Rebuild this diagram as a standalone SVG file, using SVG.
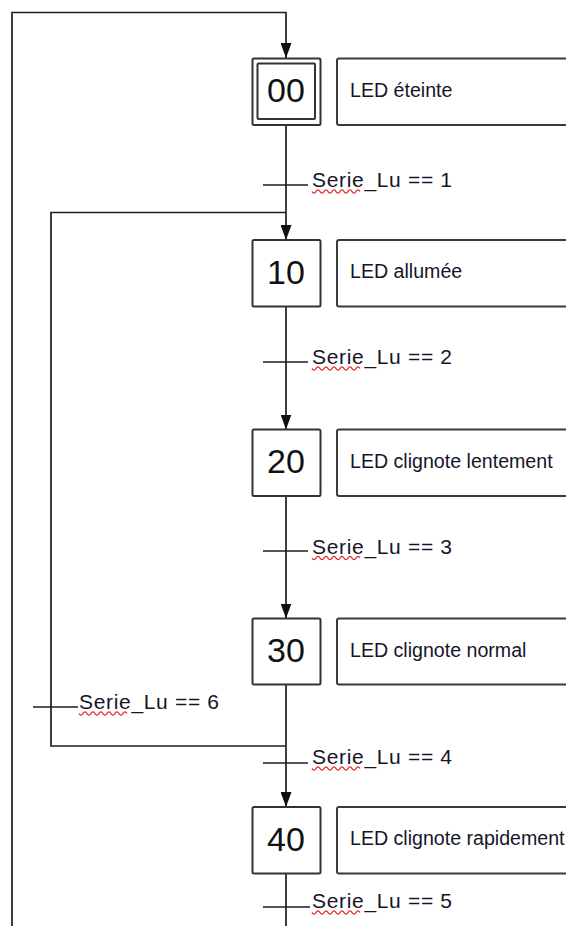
<svg xmlns="http://www.w3.org/2000/svg" xmlns:xlink="http://www.w3.org/1999/xlink" width="566" height="926" viewBox="0 0 566 926">
<style>
.box{fill:#fff;stroke:#333;stroke-width:2}
.act{fill:#fff;stroke:#3a3a3a;stroke-width:2}
.ln{fill:none;stroke:#1e1e1e;stroke-width:1.7}
.num{font-family:"Liberation Sans",Arial,sans-serif;font-size:34px;fill:#111;text-anchor:middle}
.txt{font-family:"Liberation Sans",Arial,sans-serif;font-size:19.6px;fill:#15152a}
.lbl{font-family:"Liberation Sans",Arial,sans-serif;font-size:21px;fill:#15152a}
.sq{fill:none;stroke:#e8201e;stroke-width:1.3}
</style>
<defs>
<marker id="arr" markerUnits="userSpaceOnUse" markerWidth="15" markerHeight="11" viewBox="0 0 15 11" refX="15" refY="5.5" orient="auto">
<path d="M0,0 L15,5.5 L0,11 z" fill="#111"/>
</marker>
<path id="squig" class="sq" d="M0,0 q2,3.4 4,0 t4,0 t4,0 t4,0 t4,0 t4,0 t4,0 t4,0 t4,0 t4,0 t4,0 t4,0"/>
</defs>
<rect width="566" height="926" fill="#fff"/>
<g id="connectors">
<path class="ln" d="M12,926 V12.5 H286 V58" marker-end="url(#arr)"/>
<path class="ln" d="M286,125 V240" marker-end="url(#arr)"/>
<path class="ln" d="M286,306.5 V429.5" marker-end="url(#arr)"/>
<path class="ln" d="M286,496 V618.5" marker-end="url(#arr)"/>
<path class="ln" d="M286,684.5 V807" marker-end="url(#arr)"/>
<path class="ln" d="M286,873.5 V926"/>
<path class="ln" d="M286,746 H51 V212.5 H286"/>
</g>
<g id="t1"><path class="ln" d="M263,185 H308"/><text class="lbl" x="312" y="187" textLength="140" lengthAdjust="spacing">Serie_Lu == 1</text><use xlink:href="#squig" x="312" y="191.5"/></g>
<g id="t2"><path class="ln" d="M263,362 H308"/><text class="lbl" x="312" y="364" textLength="140" lengthAdjust="spacing">Serie_Lu == 2</text><use xlink:href="#squig" x="312" y="368.5"/></g>
<g id="t3"><path class="ln" d="M263,551 H308"/><text class="lbl" x="312" y="553.5" textLength="140" lengthAdjust="spacing">Serie_Lu == 3</text><use xlink:href="#squig" x="312" y="558"/></g>
<g id="t4"><path class="ln" d="M263,763 H308"/><text class="lbl" x="312" y="764" textLength="140" lengthAdjust="spacing">Serie_Lu == 4</text><use xlink:href="#squig" x="312" y="768.5"/></g>
<g id="t5"><path class="ln" d="M263,907 H310"/><text class="lbl" x="312" y="908" textLength="140" lengthAdjust="spacing">Serie_Lu == 5</text><use xlink:href="#squig" x="312" y="912.5"/></g>
<g id="t6"><path class="ln" d="M33,707 H78"/><text class="lbl" x="79" y="709" textLength="140" lengthAdjust="spacing">Serie_Lu == 6</text><use xlink:href="#squig" x="79" y="713.5"/></g>
<g id="s00">
<rect class="box" x="252.5" y="58.5" width="68" height="66.5" rx="1.5"/>
<rect class="box" x="257.5" y="63.5" width="57.5" height="55.5" rx="1"/>
<text class="num" x="286" y="101.5">00</text>
</g>
<g id="a00"><rect class="act" x="337" y="58.5" width="260" height="66.5" rx="2"/><text class="txt" x="350" y="96.5">LED éteinte</text></g>
<g id="s10">
<rect class="box" x="252.5" y="240" width="68" height="66.5" rx="1.5"/>
<text class="num" x="286" y="283.5">10</text>
</g>
<g id="a10"><rect class="act" x="337" y="240" width="260" height="66.5" rx="2"/><text class="txt" x="350" y="278">LED allumée</text></g>
<g id="s20">
<rect class="box" x="252.5" y="429.5" width="68" height="66.5" rx="1.5"/>
<text class="num" x="286" y="473">20</text>
</g>
<g id="a20"><rect class="act" x="337" y="429.5" width="260" height="66.5" rx="2"/><text class="txt" x="350" y="467.5">LED clignote lentement</text></g>
<g id="s30">
<rect class="box" x="252.5" y="618.5" width="68" height="66" rx="1.5"/>
<text class="num" x="286" y="661.7">30</text>
</g>
<g id="a30"><rect class="act" x="337" y="618.5" width="260" height="66" rx="2"/><text class="txt" x="350" y="656.5">LED clignote normal</text></g>
<g id="s40">
<rect class="box" x="252.5" y="807" width="68" height="66.5" rx="1.5"/>
<text class="num" x="286" y="850.5">40</text>
</g>
<g id="a40"><rect class="act" x="337" y="807" width="260" height="66.5" rx="2"/><text class="txt" x="350" y="845">LED clignote rapidement</text></g>
</svg>
